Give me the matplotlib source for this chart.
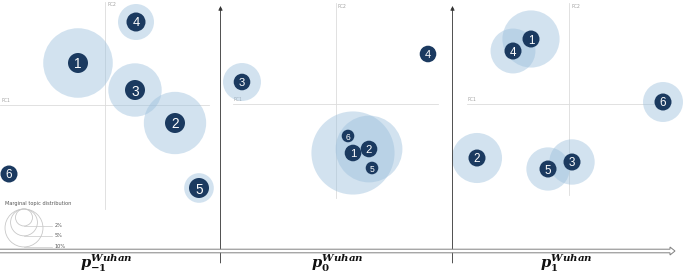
import matplotlib
matplotlib.use('Agg')
import matplotlib.pyplot as plt
from matplotlib.patches import Circle, FancyArrow
import numpy as np

plt.rcParams['mathtext.fontset'] = 'custom'
plt.rcParams['mathtext.it'] = 'DejaVu Serif:italic:bold'
plt.rcParams['mathtext.rm'] = 'DejaVu Serif:bold'
plt.rcParams['mathtext.bf'] = 'DejaVu Serif:bold'

# ---------------- data ----------------
period_labels = [r'$p_{-1}^{Wuhan}$', r'$p_{0}^{Wuhan}$', r'$p_{1}^{Wuhan}$']
topics = [1, 2, 3, 4, 5, 6]

# principal-component coordinates of each topic, per period
pm1_pc1 = [-0.27, 0.70, 0.30, 0.31, 0.94, -0.96]
pm1_pc2 = [0.42, -0.18, 0.15, 0.83, -0.83, -0.69]
pm1_share = [33.6, 27.0, 19.8, 9.0, 6.1, 1.0]     # marginal topic distribution (%)

p0_pc1 = [0.17, 0.33, -0.94, 0.92, 0.36, 0.12]
p0_pc2 = [-0.49, -0.45, 0.22, 0.50, -0.64, -0.32]
p0_share = [48.0, 31.0, 10.0, 1.5, 0.5, 0.5]

p1_pc1 = [-0.38, -0.92, 0.03, -0.56, -0.21, 0.94]
p1_pc2 = [0.65, -0.54, -0.58, 0.53, -0.65, 0.02]
p1_share = [22.7, 17.4, 14.3, 14.0, 13.0, 11.1]

legend_shares = [2, 5, 10]
legend_labels = ['2%', '5%', '10%']

# ---------------- style / layout ----------------
W, H = 685, 274
PX_PER_UNIT = 100.0      # pixels per PC unit
RADIUS_K = 6.0           # bubble radius (px) per sqrt(% share)
BUBBLE_COLOR = '#9cc0dd'
BUBBLE_ALPHA = 0.45
MARKER_COLOR = '#1b3a60'
GRID_COLOR = '#dcdcdc'

panels = [
    dict(pc1=pm1_pc1, pc2=pm1_pc2, share=pm1_share, xrange=(0, 220), origin=(105, 105),
         hline=(-1.05, 1.04), vline=(-1.04, 1.03),
         mr=[10, 10, 10, 9.5, 10, 8.5], label_x=106),
    dict(pc1=p0_pc1, pc2=p0_pc2, share=p0_share, xrange=(220, 453), origin=(336, 104),
         hline=(-1.03, 1.02), vline=(-0.94, 1.01),
         mr=[8.3, 8.3, 8.3, 8.3, 6.3, 6.3], label_x=337),
    dict(pc1=p1_pc1, pc2=p1_pc2, share=p1_share, xrange=(453, 685), origin=(569, 104),
         hline=(-1.02, 0.94), vline=(-0.91, 1.01),
         mr=[8.5] * 6, label_x=566),
]

fig = plt.figure(figsize=(W / 100, H / 100), dpi=100)
fig.patch.set_facecolor('white')

for p in panels:
    xl, xr = p['xrange']
    ox, oy = p['origin']
    ax = fig.add_axes([xl / W, 0, (xr - xl) / W, 1])
    ax.set_xlim((xl - ox) / PX_PER_UNIT, (xr - ox) / PX_PER_UNIT)
    ax.set_ylim((oy - H) / PX_PER_UNIT, oy / PX_PER_UNIT)
    ax.axis('off')
    ax.patch.set_alpha(0)
    # PC axes
    ax.plot(p['hline'], [0, 0], color=GRID_COLOR, lw=0.6, zorder=1, clip_on=False)
    ax.plot([0, 0], p['vline'], color=GRID_COLOR, lw=0.6, zorder=1, clip_on=False)
    ax.text(p['hline'][0] + 0.01, 0.02, 'PC1', fontsize=3.3, color='#a0a0a0',
            ha='left', va='bottom', zorder=1)
    ax.text(0.02, p['vline'][1] - 0.005, 'PC2', fontsize=3.3, color='#a0a0a0',
            ha='left', va='top', zorder=1)
    # bubbles
    for x, y, s in zip(p['pc1'], p['pc2'], p['share']):
        r = RADIUS_K * np.sqrt(s) / PX_PER_UNIT
        ax.add_patch(Circle((x, y), r, facecolor=BUBBLE_COLOR, alpha=BUBBLE_ALPHA,
                            edgecolor='none', zorder=2, clip_on=False))
    # topic markers
    for t, x, y, mr in zip(topics, p['pc1'], p['pc2'], p['mr']):
        ax.add_patch(Circle((x, y), mr / PX_PER_UNIT, facecolor=MARKER_COLOR,
                            edgecolor='none', zorder=3, clip_on=False))
        ax.text(x, y, str(t), color='white', fontsize=mr * 0.98, ha='center',
                va='center_baseline', family='Liberation Sans', zorder=4)

# decoration overlay in pixel coordinates
ov = fig.add_axes([0, 0, 1, 1])
ov.set_xlim(0, W)
ov.set_ylim(H, 0)
ov.axis('off')
ov.patch.set_alpha(0)

for xa in (220.5, 452.5):
    ov.annotate('', xy=(xa, 6), xytext=(xa, 263),
                arrowprops=dict(arrowstyle='-|>', color='#333333', lw=0.6,
                                mutation_scale=6, shrinkA=0, shrinkB=0))

ov.add_patch(FancyArrow(-2, 251, 677, 0, width=3.6, head_width=8, head_length=5,
                        length_includes_head=True, facecolor='white',
                        edgecolor='#808080', lw=0.7, zorder=5))

for p, lab in zip(panels, period_labels):
    ov.text(p['label_x'], 263.5, lab, fontsize=10.5, ha='center', va='center',
            color='#111111')

# legend
ov.text(5, 204, 'Marginal topic distribution', fontsize=3.6, color='#555555',
        ha='left', va='center')
top = 209
cx = 24
for s, lab in zip(legend_shares, legend_labels):
    r = RADIUS_K * np.sqrt(s)
    ov.add_patch(Circle((cx, top + r), r, facecolor='none', edgecolor='#c8c8c8', lw=0.6))
    yb = top + 2 * r
    ov.plot([cx, 52], [yb, yb], color='#c8c8c8', lw=0.5)
    ov.text(55, yb, lab, fontsize=3.6, color='#555555', ha='left', va='center')

fig.savefig('out.png', dpi=100, facecolor='white')
